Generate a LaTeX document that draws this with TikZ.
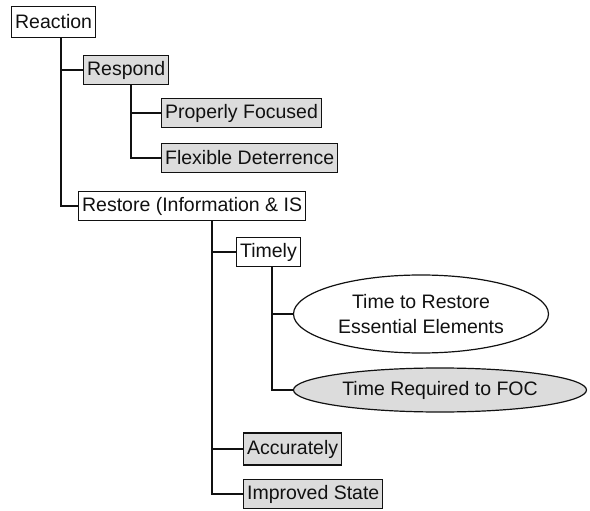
\documentclass[tikz,border=0pt]{standalone}
\usepackage{fontspec}
\setmainfont{Liberation Sans}
\usetikzlibrary{shapes.geometric}
\definecolor{trink}{HTML}{111111}
\definecolor{trgray}{HTML}{DCDCDC}
\tikzset{
  tr text/.style={font=\fontsize{19.5}{23}\selectfont, text=trink},
  tr box/.style={draw=trink, line width=1.2pt, fill=white, anchor=west,
    inner xsep=3.5pt, inner ysep=0pt, minimum height=29pt},
  tr shaded/.style={tr box, fill=trgray},
  tr oval/.style={ellipse, draw=trink, line width=1.2pt, fill=white,
    inner sep=0pt, align=center, font=\fontsize{19.5}{25}\selectfont},
  tr link/.style={draw=trink, line width=1.3pt}
}

\begin{document}
\begin{tikzpicture}[tr text, x=1pt, y=-1pt]
  \useasboundingbox (0,0) rectangle (590,511);
  % first level
  \node[tr box, minimum height=31pt] (reaction) at (11,22) {Reaction};
  \node[tr shaded] (respond) at (83,70) {Respond};
  \node[tr box] (restore) at (78,206) {Restore (Information \& IS};
  % under respond
  \node[tr shaded] (focused) at (161,113) {Properly Focused};
  \node[tr shaded] (deter) at (161,158) {Flexible Deterrence};
  % under restore
  \node[tr box] (timely) at (236,252) {Timely};
  \node[tr shaded, minimum height=32pt] (accurate) at (243,449) {Accurately};
  \node[tr shaded] (improved) at (243,494) {Improved State};
  % under timely
  \node[tr oval, minimum width=255pt, minimum height=78pt] (essential) at (421,314)
    {Time to Restore\\Essential Elements};
  \node[tr oval, fill=trgray, minimum width=293pt, minimum height=44pt] (foc) at (440,390)
    {Time Required to FOC};
  % links
  \draw[tr link] ([xshift=50]reaction.south west) |- (respond.west)
    ([xshift=50]reaction.south west) |- (restore.west);
  \draw[tr link] ([xshift=48]respond.south west) |- (focused.west)
    ([xshift=48]respond.south west) |- (deter.west);
  \draw[tr link] ([xshift=134]restore.south west) |- (timely.west)
    ([xshift=134]restore.south west) |- (accurate.west)
    ([xshift=134]restore.south west) |- (improved.west);
  \draw[tr link] ([xshift=36]timely.south west) |- (essential.west)
    ([xshift=36]timely.south west) |- (foc.west);
\end{tikzpicture}
\end{document}
